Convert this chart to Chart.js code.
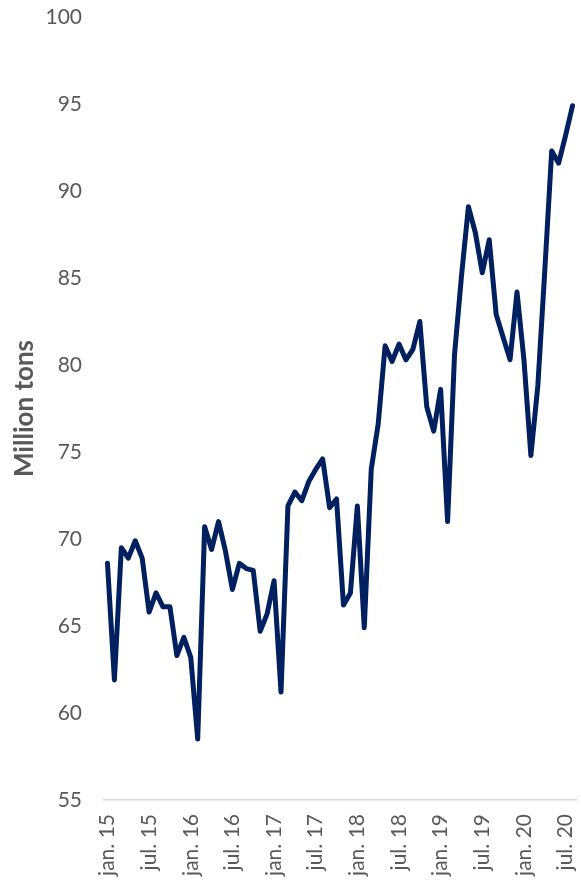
<!DOCTYPE html>
<html>
<head>
<meta charset="utf-8">
<script src="https://cdn.jsdelivr.net/npm/chart.js@4.4.1/dist/chart.umd.min.js"></script>
<style>
  html, body { margin: 0; padding: 0; background: #ffffff; }
  #wrap { width: 581px; height: 885px; }
</style>
</head>
<body>
<div id="wrap"><canvas id="chart" width="581" height="885"></canvas></div>
<script>
// Monthly categories, jan. 15 -> aug. 20
const months = [
  'jan. 15', 'feb. 15', 'mar. 15', 'apr. 15', 'mai. 15', 'jun. 15', 'jul. 15', 'aug. 15', 'sep. 15', 'okt. 15', 'nov. 15', 'des. 15',
  'jan. 16', 'feb. 16', 'mar. 16', 'apr. 16', 'mai. 16', 'jun. 16', 'jul. 16', 'aug. 16', 'sep. 16', 'okt. 16', 'nov. 16', 'des. 16',
  'jan. 17', 'feb. 17', 'mar. 17', 'apr. 17', 'mai. 17', 'jun. 17', 'jul. 17', 'aug. 17', 'sep. 17', 'okt. 17', 'nov. 17', 'des. 17',
  'jan. 18', 'feb. 18', 'mar. 18', 'apr. 18', 'mai. 18', 'jun. 18', 'jul. 18', 'aug. 18', 'sep. 18', 'okt. 18', 'nov. 18', 'des. 18',
  'jan. 19', 'feb. 19', 'mar. 19', 'apr. 19', 'mai. 19', 'jun. 19', 'jul. 19', 'aug. 19', 'sep. 19', 'okt. 19', 'nov. 19', 'des. 19',
  'jan. 20', 'feb. 20', 'mar. 20', 'apr. 20', 'mai. 20', 'jun. 20', 'jul. 20', 'aug. 20'
];

// Million tons
const tons = [
  68.6, 61.9, 69.5, 68.9, 69.9, 68.9, 65.8, 66.9, 66.1, 66.1, 63.3, 64.35,
  63.2, 58.5, 70.7, 69.4, 71.0, 69.3, 67.1, 68.6, 68.3, 68.2, 64.7, 65.7,
  67.6, 61.2, 71.9, 72.7, 72.2, 73.3, 74.0, 74.6, 71.8, 72.3, 66.2, 66.9,
  71.9, 64.9, 74.0, 76.6, 81.1, 80.2, 81.2, 80.3, 80.9, 82.5, 77.6, 76.2,
  78.6, 71.0, 80.6, 85.1, 89.1, 87.6, 85.3, 87.2, 82.9, 81.6, 80.3, 84.2,
  80.3, 74.8, 78.8, 85.4, 92.3, 91.6, 93.2, 94.9
];

// Only every sixth month gets a label on the axis
const labelEvery = 6;
const yTitle = 'Million tons';

const tickGrey = '#595959';
const lineBlue = '#002060';

const ctx = document.getElementById('chart').getContext('2d');
new Chart(ctx, {
  type: 'line',
  data: {
    labels: months,
    datasets: [{
      label: yTitle,
      data: tons,
      borderColor: lineBlue,
      backgroundColor: lineBlue,
      borderWidth: 5,
      borderJoinStyle: 'round',
      borderCapStyle: 'round',
      pointRadius: 0,
      tension: 0,
      fill: false
    }]
  },
  options: {
    responsive: false,
    animation: false,
    layout: { padding: { top: 17, right: 5, left: 0, bottom: 0 } },
    plugins: {
      legend: { display: false },
      tooltip: { enabled: false }
    },
    scales: {
      x: {
        type: 'category',
        offset: true,
        grid: { display: false, drawTicks: false },
        border: { display: true, color: '#d9d9d9', width: 1.5 },
        ticks: {
          autoSkip: false,
          minRotation: 90,
          maxRotation: 90,
          padding: 14,
          color: tickGrey,
          font: { family: 'Lato', size: 21 },
          callback: function (val, i) {
            return i % labelEvery === 0 ? this.getLabelForValue(val) : '';
          }
        },
        afterFit: s => {
          s.height = 85;
          s.paddingLeft = 0;
          s.paddingRight = 0;
        }
      },
      y: {
        min: 55,
        max: 100,
        grid: { display: false, drawTicks: false },
        border: { display: false },
        ticks: {
          stepSize: 5,
          padding: 22,
          color: tickGrey,
          font: { family: 'Lato', size: 21 }
        },
        title: {
          display: true,
          text: yTitle,
          color: tickGrey,
          font: { family: 'Lato', size: 26, weight: 'bold' },
          padding: { top: 9, bottom: 0 }
        },
        afterFit: s => {
          s.width = 104;
          s.paddingTop = 0;
          s.paddingBottom = 0;
        }
      }
    }
  }
});
</script>
</body>
</html>
